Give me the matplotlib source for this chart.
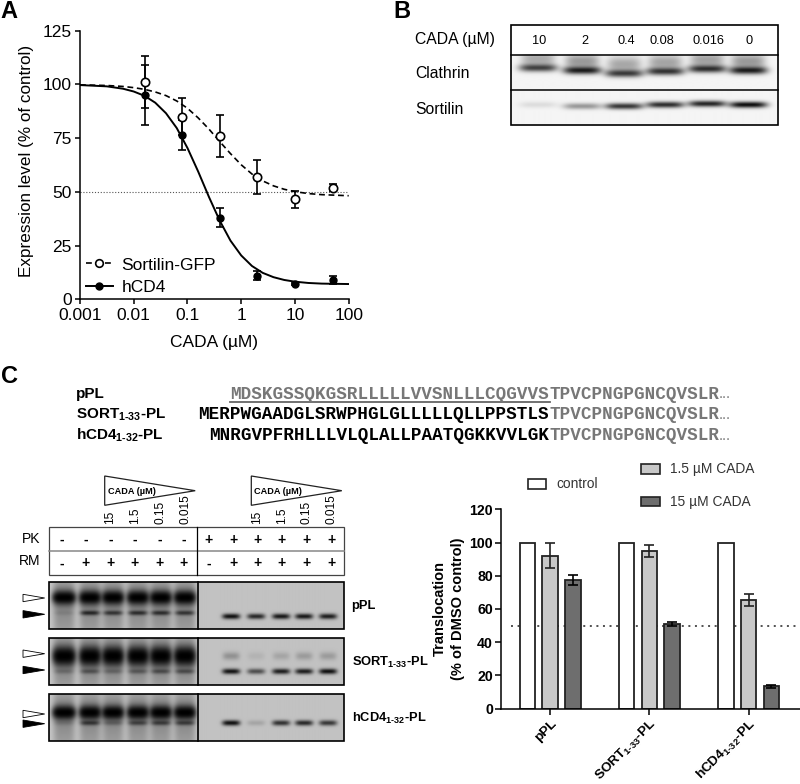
import numpy as np
import matplotlib
matplotlib.use("Agg")
import matplotlib.pyplot as plt
from matplotlib.patches import Polygon, Rectangle
from matplotlib.transforms import ScaledTranslation

plt.rcParams['font.family'] = ['Liberation Sans', 'DejaVu Sans']
plt.rcParams['mathtext.fontset'] = 'custom'
plt.rcParams['mathtext.rm'] = 'Liberation Sans:bold'
plt.rcParams['mathtext.bf'] = 'Liberation Sans:bold'
plt.rcParams['mathtext.it'] = 'Liberation Sans'
plt.rcParams['mathtext.default'] = 'rm'

# panel A: dose response
conc = [0.016, 0.08, 0.4, 2, 10, 50]
sort_mean = [101, 85, 76, 57, 46.5, 52]
sort_err = [12, 8.5, 10, 8, 4, 1.5]
cd4_mean = [95, 76.5, 38, 11, 7.3, 9]
cd4_err = [14, 7, 4.5, 2, 0.5, 2]

# fitted curves
curve_logx = [-3, -2.5, -2.2, -2, -1.8, -1.6, -1.4, -1.2, -1, -0.8, -0.6, -0.4,
              -0.2, 0, 0.2, 0.4, 0.6, 0.8, 1, 1.25, 1.5, 2]
sort_curve = [99.8, 99.5, 99.05, 98.5, 97.7, 96.5, 94.8, 92.3, 88.9, 84.4, 79.2, 73.4,
              67.8, 62.6, 58.3, 55.1, 52.8, 51.2, 50.1, 49.2, 48.7, 48.2]
cd4_curve = [99.7, 99.1, 98, 96.7, 94.7, 91.5, 86.6, 79.7, 70.4, 59.4, 47.6, 36.6,
             27.3, 20.4, 15.5, 12.3, 10.3, 9, 8.2, 7.6, 7.3, 7.1]

# panel B: band strength per lane
b_labels = ['10', '2', '0.4', '0.08', '0.016', '0']
b_lane_x = [538, 582, 624, 665, 707, 748]
clathrin = [0.72, 0.88, 0.75, 0.78, 0.8, 0.88]
clathrin_y = [68.5, 71, 74, 72, 69.5, 71]
sortilin = [0.10, 0.38, 0.78, 0.82, 0.85, 0.95]
sortilin_y = [105, 106.5, 106.5, 105, 104, 105]

# panel C: sequences
seq_names = ['pPL', r'SORT$_{1\text{-}33}$-PL', r'hCD4$_{1\text{-}32}$-PL']
seq_head = ['MDSKGSSQKGSRLLLLLVVSNLLLCQGVVS', 'MERPWGAADGLSRWPHGLGLLLLLQLLPPSTLS',
            'MNRGVPFRHLLLVLQLALLPAATQGKKVVLGK']
seq_tail = 'TPVCPNGPGNCQVSLR'

# panel C: gels
dose_labels = ['15', '1.5', '0.15', '0.015']
pk_signs = ['-', '-', '-', '-', '-', '-', '+', '+', '+', '+', '+', '+']
rm_signs = ['-', '+', '+', '+', '+', '+', '-', '+', '+', '+', '+', '+']
gel_names = ['pPL', r'SORT$_{1\text{-}33}$-PL', r'hCD4$_{1\text{-}32}$-PL']
left_lanes = [64, 90, 113, 138, 161, 185]
right_lanes = [231, 256, 281, 304, 328]
gel_top_left = [[1, 1, 1, 1, 1, 1], [1, 1, 1, 1, 1, 1], [1, 1, 1, 1, 1, 1]]
gel_low_left = [[0.1, 0.75, 0.65, 0.7, 0.7, 0.65], [0.2, 0.4, 0.25, 0.35, 0.45, 0.45],
                [0.1, 0.6, 0.25, 0.5, 0.55, 0.55]]
gel_low_right = [[0.92, 0.8, 0.88, 0.88, 0.85], [0.9, 0.6, 0.85, 0.85, 0.92],
                 [0.92, 0.15, 0.75, 0.8, 0.72]]
gel_faint_right = [[0, 0, 0, 0, 0], [0.25, 0.08, 0.15, 0.2, 0.2], [0, 0, 0, 0, 0]]

# panel C: bars
bar_groups = ['pPL', r'SORT$_{\mathit{1\text{-}33}}$-PL', r'hCD4$_{\mathit{1\text{-}32}}$-PL']
control = [100, 100, 100]
cada_low = [92, 95, 65.5]
cada_low_err = [7.5, 3.5, 3.5]
cada_high = [77.5, 51, 13.5]
cada_high_err = [3, 1, 1]

W, H = 800, 784
fig = plt.figure(figsize=(8, 7.84), dpi=100)


def box(x0, y0, x1, y1):
    return [x0 / W, 1 - y1 / H, (x1 - x0) / W, (y1 - y0) / H]


page = fig.add_axes([0, 0, 1, 1], zorder=5)
page.patch.set_alpha(0)
page.axis('off')


def blot(x0, x1, y0, y1, bg, bands):
    xs = np.linspace(x0, x1, int((x1 - x0) * 2))
    ys = np.linspace(y0, y1, int((y1 - y0) * 2))
    xx, yy = np.meshgrid(xs, ys)
    img = np.full(xx.shape, float(bg))
    for cx, cy, hw, hh, s in bands:
        img *= 1 - s * np.exp(-((xx - cx) / hw) ** 4 - ((yy - cy) / hh) ** 2)
    page.imshow(img, extent=(x0, x1, y1, y0), cmap='gray', vmin=0, vmax=1,
                aspect='auto', interpolation='bilinear', zorder=1)


# A
ax = fig.add_axes(box(80, 30.7, 348.7, 299.3))
ax.set_xscale('log')
ax.axhline(50, color='#555555', lw=0.8, ls=(0, (1, 1.6)))
ax.plot(10.0 ** np.array(curve_logx), sort_curve, color='k', lw=1.2, ls=(0, (3.5, 2.2)))
ax.plot(10.0 ** np.array(curve_logx), cd4_curve, color='k', lw=1.4)
ax.errorbar(conc, sort_mean, yerr=sort_err, fmt='none', ecolor='k', elinewidth=1.2, capsize=3, capthick=1.2)
ax.errorbar(conc, cd4_mean, yerr=cd4_err, fmt='none', ecolor='k', elinewidth=1.2, capsize=3, capthick=1.2)
ax.plot(conc, cd4_mean, 'o', color='k', ms=5, zorder=4)
ax.plot(conc, sort_mean, 'o', mfc='white', mec='k', mew=1.2, ms=6, zorder=5)
h1, = ax.plot([], [], color='k', lw=1.2, ls=(0, (3.5, 2.2)), marker='o', mfc='white', mec='k', mew=1.2, ms=5.5)
h2, = ax.plot([], [], color='k', lw=1.4, marker='o', ms=5)
ax.legend([h1, h2], ['Sortilin-GFP', 'hCD4'], loc='lower left', bbox_to_anchor=(0.005, 0.0), frameon=False,
          fontsize=12.5, handlelength=1.55, handletextpad=0.5, labelspacing=0.42, borderpad=0.25, borderaxespad=0)
ax.set_xlim(0.001, 100)
ax.set_ylim(0, 125)
ax.set_xticks([0.001, 0.01, 0.1, 1, 10, 100])
ax.set_xticklabels(['0.001', '0.01', '0.1', '1', '10', '100'])
ax.minorticks_off()
ax.set_yticks([0, 25, 50, 75, 100, 125])
ax.tick_params(labelsize=12.5, width=1.1, length=3.5, pad=2.5)
ax.set_xlabel('CADA (µM)', fontsize=12.5, labelpad=9)
ax.spines[['top', 'right']].set_visible(False)
ax.spines[['left', 'bottom']].set_linewidth(1.1)
page.text(27, 161, 'Expression level (% of control)', fontsize=12.3, rotation=90, ha='center', va='center')

# B
page.add_patch(Rectangle((511, 24.5), 266.5, 100, fc='white', ec='none', zorder=0))
bands = []
for x, s, y in zip(b_lane_x, clathrin, clathrin_y):
    bands.append((x, y - 9, 17, 8, s * 0.42))
    bands.append((x, y, 19, 3.8, s))
blot(511, 777.5, 55, 90.3, 0.96, bands)
bands = [(x, y, 19, 3.2, s) for x, s, y in zip(b_lane_x, sortilin, sortilin_y)]
blot(511, 777.5, 90.3, 124.3, 0.96, bands)
page.add_patch(Rectangle((511, 24.5), 266.5, 100, fc='none', ec='k', lw=1.2, zorder=3))
page.plot([511, 777.5], [55, 55], color='k', lw=1.1, zorder=3)
page.plot([511, 777.5], [90.3, 90.3], color='k', lw=1.1, zorder=3)
for x, s in zip([539, 585, 626, 662, 708, 749], b_labels):
    page.text(x, 41, s, fontsize=9.2, ha='center', va='center')
page.text(415, 39, 'CADA (µM)', fontsize=11.3, va='center')
page.text(415, 73, 'Clathrin', fontsize=11.3, va='center')
page.text(415, 109, 'Sortilin', fontsize=11.3, va='center')

# panel letters
page.text(0, 11, 'A', fontsize=17, fontweight='bold', va='center')
page.text(393, 11, 'B', fontsize=17, fontweight='bold', va='center')
page.text(1, 376, 'C', fontsize=17, fontweight='bold', va='center')

# C: sequences
for i, y in enumerate([394, 414.5, 435.5]):
    page.text(76, y, seq_names[i], fontsize=11, fontweight='bold', va='center')
    col = '#777777' if i == 0 else 'k'
    page.text(549, y, seq_head[i], family='Liberation Mono', fontsize=12.7, fontweight='bold',
              color=col, ha='right', va='center')
    page.text(549, y, seq_tail, family='Liberation Mono', fontsize=12.7, fontweight='bold',
              color='#777777', ha='left', va='center')
    page.text(718.5, y, '...', fontsize=10.5, color='#777777', ha='left', va='center')
page.plot([230, 550], [402, 402], color='#666666', lw=1.3)

# C: triangles and doses
for x0 in [104.7, 251.3]:
    page.add_patch(Polygon([(x0, 476), (x0, 505.3), (x0 + 90.5, 490.7)], closed=True, fc='white', ec='#222222', lw=0.9))
    page.text(x0 + 2.8, 491.5, 'CADA (µM)', fontsize=6.6, fontweight='bold', va='center')
    for j, s in enumerate(dose_labels):
        page.text(x0 + 5.5 + j * 25, 523.5, s, fontsize=8.6, rotation=90, ha='center', va='bottom')

# C: PK / RM table
page.add_patch(Rectangle((49, 527), 294.7, 47.7, fc='none', ec='#444444', lw=0.9))
page.plot([49, 343.7], [550.7, 550.7], color='#888888', lw=1.1)
page.plot([196.7, 196.7], [527, 574.7], color='k', lw=0.9)
page.text(31, 539, 'PK', fontsize=10, ha='center', va='center')
page.text(30, 561, 'RM', fontsize=10, ha='center', va='center')
sign_x = [61.3, 85.7, 110.3, 134.7, 159.3, 184, 208.3, 233, 257.3, 282, 306.7, 331.3]
for x, a, b in zip(sign_x, pk_signs, rm_signs):
    page.text(x, 540, a, fontsize=10, fontweight='bold', ha='center', va='center')
    page.text(x, 563.5, b, fontsize=10, fontweight='bold', ha='center', va='center')

# C: gels
gel_y = [582.3, 638.3, 694.3]
low_y = [[31, 34.5], [33.5, 33.5], [29, 29]]
for g, y0 in enumerate(gel_y):
    y1 = y0 + 47
    top_y = y0 + [15.5, 18, 18.5][g]
    hh = [5.5, 8, 5.5][g]
    bands = []
    for k, x in enumerate(left_lanes):
        bands.append((x, y0 + 24, 11, 40, 0.3))
        bands.append((x, top_y, 10.5 if k else 11.5, hh, gel_top_left[g][k]))
        bands.append((x, top_y, 11, hh + 2.5, 0.7))
        bands.append((x, y0 + low_y[g][0], 9.5, 2.4, gel_low_left[g][k]))
    blot(49, 198, y0, y1, 0.78, bands)
    bands = []
    for k, x in enumerate(right_lanes):
        bands.append((x, y0 + low_y[g][1], 9, 2.8, gel_low_right[g][k]))
        bands.append((x, y0 + 18, 8.5, 4, gel_faint_right[g][k]))
    blot(198, 343.7, y0, y1, 0.76, bands)
    page.add_patch(Rectangle((49, y0), 294.7, 47, fc='none', ec='k', lw=1.2, zorder=3))
    page.plot([198, 198], [y0, y1], color='k', lw=1.2, zorder=3)
    page.text(351.5, y0 + 24, gel_names[g], fontsize=9.3, fontweight='bold', va='center')

# C: arrow heads next to the gels
for wy, by in [(598, 614.3), (653.7, 670), (714, 723.7)]:
    page.add_patch(Polygon([(23, wy - 3.7), (23, wy + 3.7), (44.7, wy)], closed=True, fc='white', ec='k', lw=0.6))
    page.add_patch(Polygon([(23, by - 3.7), (23, by + 3.7), (44.7, by)], closed=True, fc='k', ec='k', lw=0.6))

# C: bars
ax2 = fig.add_axes(box(500.7, 509.3, 800, 708.7))
ax2.patch.set_alpha(0)
x = np.arange(3)
bw, step = 0.158, 0.23
ax2.axhline(50, color='#222222', lw=1.1, ls=(0, (1.3, 3)), xmin=0.035, zorder=1)
edge = '#222222'
ax2.bar(x - step, control, bw, color='white', edgecolor=edge, lw=1.3, zorder=2)
ax2.bar(x, cada_low, bw, color='#c8c8c8', edgecolor=edge, lw=1.3, zorder=2)
ax2.bar(x + step, cada_high, bw, color='#6e6e6e', edgecolor=edge, lw=1.3, zorder=2)
ax2.errorbar(x, cada_low, yerr=cada_low_err, fmt='none', ecolor=edge, elinewidth=1.2, capsize=3.5, capthick=1.2, zorder=3)
ax2.errorbar(x + step, cada_high, yerr=cada_high_err, fmt='none', ecolor='k', elinewidth=1.2, capsize=3.5, capthick=1.2, zorder=3)
ax2.set_xlim(-0.5, 2.518)
ax2.set_ylim(0, 120)
ax2.set_yticks(range(0, 121, 20))
ax2.set_xticks(x)
ax2.set_xticklabels(bar_groups, rotation=45, ha='right', rotation_mode='anchor', fontsize=9.7, fontweight='bold')
shift = ScaledTranslation(6 / 100, 0, fig.dpi_scale_trans)
for t in ax2.get_xticklabels():
    t.set_transform(t.get_transform() + shift)
for t in ax2.get_yticklabels():
    t.set_fontweight('bold')
ax2.tick_params(axis='y', labelsize=10.2, width=1.1, length=4, pad=1.5)
ax2.tick_params(axis='x', width=1.1, length=4, pad=2)
ax2.spines[['top', 'right']].set_visible(False)
ax2.spines[['left', 'bottom']].set_linewidth(1.1)
page.text(449, 609, 'Translocation\n(% of DMSO control)', rotation=90, fontsize=10.5, fontweight='bold',
          ha='center', va='center', linespacing=1.45)

# C: bar legend
for (x0, y0), c, label in [((527.5, 479), 'white', 'control'), ((641, 464), '#c8c8c8', '1.5 µM CADA'),
                           ((641, 496.7), '#6e6e6e', '15 µM CADA')]:
    page.add_patch(Rectangle((x0, y0), 18.5, 9.5, fc=c, ec=edge, lw=1.2))
    page.text(x0 + (28.5 if c == 'white' else 29), y0 + 5, label, fontsize=9.9, color='#333333', va='center')

page.set_xlim(0, W)
page.set_ylim(H, 0)
plt.savefig('out.png', dpi=100)
